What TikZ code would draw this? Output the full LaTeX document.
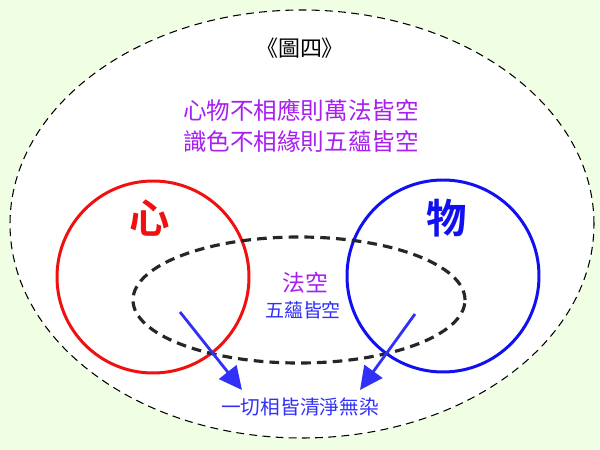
\documentclass[tikz,border=0pt]{standalone}
\usepackage{fontspec}
\usepackage{xcolor}
\usetikzlibrary{arrows.meta}
\newfontfamily\cjk{Noto Sans CJK TC}
\newfontfamily\cjkbold{Noto Sans CJK TC Bold}
\definecolor{bgGreen}{HTML}{F0FFE4}
\definecolor{textPurple}{HTML}{A820F0}
\definecolor{textBlue}{HTML}{3030F8}
\definecolor{heartRed}{HTML}{F01010}
\definecolor{thingBlue}{HTML}{1010F0}

\begin{document}
\begin{tikzpicture}[
  ring/.style={line width=1.7pt},
  caption/.style={font=\cjk, inner sep=1pt},
  pointer/.style={-{Triangle[length=0.46cm,width=0.44cm]}, line width=1.6pt, textBlue}
]
\useasboundingbox (0,0) rectangle (12,9);
\fill[bgGreen] (0,0) rectangle (12,9);

% Outer field
\draw[fill=white, dash pattern=on 4.5pt off 3pt, line width=0.6pt] (6.04,4.52) ellipse [x radius=5.84, y radius=4.28];
\node[caption, font=\cjk\fontsize{12.5}{14}\selectfont] (title) at (6.0,8.04) {《圖四》};
\node[caption, font=\cjk\fontsize{13.4}{15}\selectfont, text=textPurple] (line-a) at (6.02,6.8) {心物不相應則萬法皆空};
\node[caption, font=\cjk\fontsize{13.4}{15}\selectfont, text=textPurple] (line-b) at (6.02,6.16) {識色不相緣則五蘊皆空};

% Mind and matter circles
\draw[ring, heartRed] (3.06,3.46) circle (1.92);
\draw[ring, thingBlue] (8.86,3.48) circle (1.92);
\node[font=\cjkbold\fontsize{23}{25}\selectfont, text=heartRed] (heart) at (3.0,4.64) {心};
\node[font=\cjkbold\fontsize{23}{25}\selectfont, text=thingBlue] (thing) at (8.94,4.64) {物};

% Emptiness zone
\draw[line width=1.8pt, black!85, dash pattern=on 5.5pt off 3.5pt] (5.98,3.0) ellipse [x radius=3.32, y radius=1.26];
\node[caption, font=\cjk\fontsize{13}{15}\selectfont, text=textPurple] (fa-kong) at (6.1,3.34) {法空};
\node[caption, font=\cjk\fontsize{10.8}{13}\selectfont, text=textBlue] (wu-yun) at (6.06,2.8) {五蘊皆空};

% Result
\node[caption, font=\cjk\fontsize{11.2}{13}\selectfont, text=textBlue] (pure) at (6.0,0.86) {一切相皆清淨無染};
\coordinate (left-start) at (3.6,2.76);
\coordinate (left-tip) at (4.84,1.2);
\coordinate (right-start) at (8.3,2.72);
\coordinate (right-tip) at (7.2,1.2);
\draw[pointer] (left-start) -- (left-tip);
\draw[pointer] (right-start) -- (right-tip);
\end{tikzpicture}
\end{document}
